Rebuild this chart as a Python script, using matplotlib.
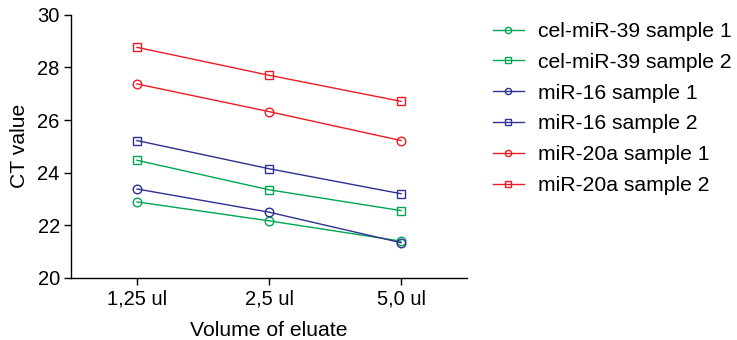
import matplotlib
matplotlib.use("Agg")
import matplotlib.pyplot as plt

plt.rcParams['font.family'] = ['Liberation Sans', 'DejaVu Sans']

categories = ["1,25 ul", "2,5 ul", "5,0 ul"]
cel39_s1 = [22.89, 22.17, 21.40]
cel39_s2 = [24.47, 23.35, 22.56]
mir16_s1 = [23.38, 22.50, 21.34]
mir16_s2 = [25.22, 24.15, 23.20]
mir20a_s1 = [27.37, 26.32, 25.22]
mir20a_s2 = [28.76, 27.70, 26.71]

green = "#00a651"
blue = "#2e3192"
red = "#ed1c24"

series = [
    ("cel-miR-39 sample 1", cel39_s1, green, "o"),
    ("cel-miR-39 sample 2", cel39_s2, green, "s"),
    ("miR-16 sample 1", mir16_s1, blue, "o"),
    ("miR-16 sample 2", mir16_s2, blue, "s"),
    ("miR-20a sample 1", mir20a_s1, red, "o"),
    ("miR-20a sample 2", mir20a_s2, red, "s"),
]

fig = plt.figure(figsize=(7.37, 3.4), dpi=100)
ax = fig.add_axes([0.0963, 0.1824, 0.5374, 0.7744])
x = list(range(len(categories)))
for label, vals, c, m in series:
    ax.plot(x, vals, color=c, marker=m, markersize=6.2, markerfacecolor="none",
            markeredgecolor=c, markeredgewidth=1.0, linewidth=1.0, label=label)

ax.set_xlim(-0.5, 2.5)
ax.set_ylim(20, 30)
ax.set_yticks([20, 22, 24, 26, 28, 30])
ax.set_xticks(x)
ax.set_xticklabels(categories)
ax.spines['top'].set_visible(False)
ax.spines['right'].set_visible(False)
for s in ['left', 'bottom']:
    ax.spines[s].set_linewidth(1.0)
ax.tick_params(direction='out', length=5, width=1.0, labelsize=14.5, pad=3)
ax.set_xlabel("Volume of eluate", fontsize=15.2, labelpad=9)
ax.set_ylabel("CT value", fontsize=15.2, labelpad=6)

leg = fig.legend(loc='upper left', bbox_to_anchor=(493 / 737, 1 - 22 / 340), frameon=False,
                 fontsize=15.2, handlelength=1.45, handletextpad=0.68, labelspacing=0.56,
                 borderpad=0, borderaxespad=0, markerscale=0.72)

fig.savefig("out.png", dpi=100)
